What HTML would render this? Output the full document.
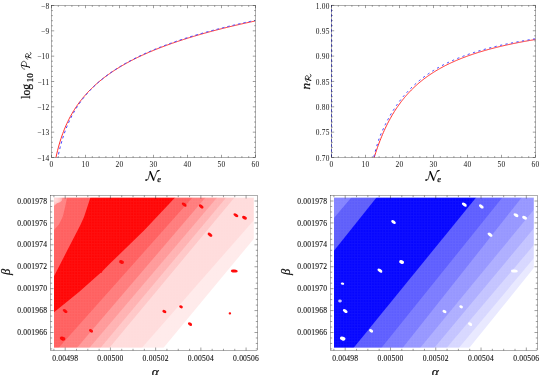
<!DOCTYPE html>
<html><head><meta charset="utf-8"><title>plots</title>
<style>html,body{margin:0;padding:0;background:#fff;font-family:"Liberation Serif",serif}body{width:541px;height:375px;overflow:hidden}</style>
</head><body>
<svg width="541" height="375" viewBox="0 0 541 375" style="display:block;will-change:transform;font-family:'Liberation Serif',serif" fill="#111">
<style>.lab text,text.lab{stroke:#111;stroke-width:0.25px;stroke-linejoin:round}text.tl{stroke:#111;stroke-width:0.1px}</style>
<rect width="541" height="375" fill="#fff"/>
<clipPath id="ctl"><rect x="51.5" y="5.5" width="204.0" height="152.0"/></clipPath>
<g clip-path="url(#ctl)">
<polyline points="52.52,177.70 53.37,171.79 54.22,166.58 55.07,161.93 55.92,157.72 56.77,153.87 57.62,150.34 58.47,147.07 59.32,144.03 60.17,141.18 61.02,138.51 61.87,135.99 62.72,133.60 63.57,131.34 64.42,129.19 65.27,127.14 66.12,125.18 66.97,123.31 67.82,121.51 68.67,119.78 69.52,118.12 70.37,116.51 71.22,114.97 72.07,113.47 72.92,112.03 73.77,110.63 74.62,109.28 75.47,107.96 76.32,106.69 77.17,105.45 78.02,104.24 78.87,103.06 79.72,101.92 80.57,100.81 81.42,99.72 82.27,98.66 83.12,97.62 83.97,96.61 84.82,95.62 85.67,94.65 86.52,93.71 87.37,92.78 88.22,91.87 89.07,90.98 89.92,90.11 90.77,89.26 91.62,88.42 92.47,87.60 93.32,86.79 94.17,85.99 95.02,85.22 95.87,84.45 96.72,83.70 97.57,82.96 98.42,82.23 99.27,81.51 100.12,80.81 100.97,80.12 101.82,79.44 102.67,78.76 103.52,78.10 104.37,77.45 105.22,76.81 106.07,76.17 106.92,75.55 107.77,74.93 108.62,74.33 109.47,73.73 110.32,73.14 111.17,72.56 112.02,71.98 112.87,71.41 113.72,70.85 114.57,70.30 115.42,69.75 116.27,69.21 117.12,68.68 117.97,68.15 118.82,67.63 119.67,67.12 120.52,66.61 121.37,66.10 122.22,65.61 123.07,65.12 123.92,64.63 124.77,64.15 125.62,63.67 126.47,63.20 127.32,62.74 128.17,62.28 129.02,61.82 129.87,61.37 130.72,60.92 131.57,60.48 132.42,60.04 133.27,59.61 134.12,59.18 134.97,58.75 135.82,58.33 136.67,57.92 137.52,57.50 138.37,57.09 139.22,56.69 140.07,56.29 140.92,55.89 141.77,55.49 142.62,55.10 143.47,54.72 144.32,54.33 145.17,53.95 146.02,53.57 146.87,53.20 147.72,52.83 148.57,52.46 149.42,52.09 150.27,51.73 151.12,51.37 151.97,51.02 152.82,50.66 153.67,50.31 154.52,49.96 155.37,49.62 156.22,49.28 157.07,48.94 157.92,48.60 158.77,48.27 159.62,47.93 160.47,47.60 161.32,47.28 162.17,46.95 163.02,46.63 163.87,46.31 164.72,45.99 165.57,45.68 166.42,45.36 167.27,45.05 168.12,44.74 168.97,44.44 169.82,44.13 170.67,43.83 171.52,43.53 172.37,43.23 173.22,42.94 174.07,42.64 174.92,42.35 175.77,42.06 176.62,41.77 177.47,41.48 178.32,41.20 179.17,40.92 180.02,40.64 180.87,40.36 181.72,40.08 182.57,39.80 183.42,39.53 184.27,39.26 185.12,38.99 185.97,38.72 186.82,38.45 187.67,38.18 188.52,37.92 189.37,37.66 190.22,37.40 191.07,37.14 191.92,36.88 192.77,36.62 193.62,36.37 194.47,36.11 195.32,35.86 196.17,35.61 197.02,35.36 197.87,35.11 198.72,34.87 199.57,34.62 200.42,34.38 201.27,34.14 202.12,33.90 202.97,33.66 203.82,33.42 204.67,33.18 205.52,32.94 206.37,32.71 207.22,32.48 208.07,32.24 208.92,32.01 209.77,31.78 210.62,31.56 211.47,31.33 212.32,31.10 213.17,30.88 214.02,30.65 214.87,30.43 215.72,30.21 216.57,29.99 217.42,29.77 218.27,29.55 219.12,29.33 219.97,29.12 220.82,28.90 221.67,28.69 222.52,28.47 223.37,28.26 224.22,28.05 225.07,27.84 225.92,27.63 226.77,27.43 227.62,27.22 228.47,27.01 229.32,26.81 230.17,26.60 231.02,26.40 231.87,26.20 232.72,26.00 233.57,25.80 234.42,25.60 235.27,25.40 236.12,25.20 236.97,25.00 237.82,24.81 238.67,24.61 239.52,24.42 240.37,24.22 241.22,24.03 242.07,23.84 242.92,23.65 243.77,23.46 244.62,23.27 245.47,23.08 246.32,22.89 247.17,22.71 248.02,22.52 248.87,22.34 249.72,22.15 250.57,21.97 251.42,21.79 252.27,21.60 253.12,21.42 253.97,21.24 254.82,21.06" fill="none" stroke="#ff2a2a" stroke-width="0.98"/>
<polyline points="52.52,197.97 53.37,188.45 54.22,180.64 55.07,174.01 55.92,168.25 56.77,163.16 57.62,158.61 58.47,154.48 59.32,150.71 60.17,147.24 61.02,144.03 61.87,141.03 62.72,138.23 63.57,135.60 64.42,133.12 65.27,130.77 66.12,128.54 66.97,126.43 67.82,124.40 68.67,122.47 69.52,120.63 70.37,118.85 71.22,117.15 72.07,115.51 72.92,113.93 73.77,112.41 74.62,110.93 75.47,109.51 76.32,108.13 77.17,106.79 78.02,105.50 78.87,104.24 79.72,103.02 80.57,101.83 81.42,100.67 82.27,99.54 83.12,98.44 83.97,97.37 84.82,96.33 85.67,95.30 86.52,94.31 87.37,93.33 88.22,92.38 89.07,91.45 89.92,90.53 90.77,89.64 91.62,88.76 92.47,87.90 93.32,87.06 94.17,86.24 95.02,85.42 95.87,84.63 96.72,83.85 97.57,83.08 98.42,82.33 99.27,81.59 100.12,80.86 100.97,80.14 101.82,79.44 102.67,78.74 103.52,78.06 104.37,77.39 105.22,76.73 106.07,76.08 106.92,75.43 107.77,74.80 108.62,74.18 109.47,73.56 110.32,72.96 111.17,72.36 112.02,71.77 112.87,71.19 113.72,70.62 114.57,70.05 115.42,69.49 116.27,68.94 117.12,68.39 117.97,67.86 118.82,67.32 119.67,66.80 120.52,66.28 121.37,65.77 122.22,65.26 123.07,64.76 123.92,64.27 124.77,63.78 125.62,63.29 126.47,62.82 127.32,62.34 128.17,61.87 129.02,61.41 129.87,60.95 130.72,60.50 131.57,60.05 132.42,59.61 133.27,59.17 134.12,58.73 134.97,58.30 135.82,57.87 136.67,57.45 137.52,57.03 138.37,56.62 139.22,56.21 140.07,55.80 140.92,55.40 141.77,55.00 142.62,54.61 143.47,54.21 144.32,53.82 145.17,53.44 146.02,53.06 146.87,52.68 147.72,52.31 148.57,51.93 149.42,51.56 150.27,51.20 151.12,50.84 151.97,50.48 152.82,50.12 153.67,49.77 154.52,49.42 155.37,49.07 156.22,48.72 157.07,48.38 157.92,48.04 158.77,47.70 159.62,47.37 160.47,47.04 161.32,46.71 162.17,46.38 163.02,46.06 163.87,45.74 164.72,45.42 165.57,45.10 166.42,44.78 167.27,44.47 168.12,44.16 168.97,43.85 169.82,43.55 170.67,43.24 171.52,42.94 172.37,42.64 173.22,42.34 174.07,42.05 174.92,41.75 175.77,41.46 176.62,41.17 177.47,40.88 178.32,40.60 179.17,40.31 180.02,40.03 180.87,39.75 181.72,39.47 182.57,39.19 183.42,38.92 184.27,38.64 185.12,38.37 185.97,38.10 186.82,37.83 187.67,37.57 188.52,37.30 189.37,37.04 190.22,36.78 191.07,36.52 191.92,36.26 192.77,36.00 193.62,35.74 194.47,35.49 195.32,35.24 196.17,34.99 197.02,34.74 197.87,34.49 198.72,34.24 199.57,33.99 200.42,33.75 201.27,33.51 202.12,33.26 202.97,33.02 203.82,32.79 204.67,32.55 205.52,32.31 206.37,32.08 207.22,31.84 208.07,31.61 208.92,31.38 209.77,31.15 210.62,30.92 211.47,30.69 212.32,30.46 213.17,30.24 214.02,30.01 214.87,29.79 215.72,29.57 216.57,29.35 217.42,29.13 218.27,28.91 219.12,28.69 219.97,28.48 220.82,28.26 221.67,28.05 222.52,27.83 223.37,27.62 224.22,27.41 225.07,27.20 225.92,26.99 226.77,26.78 227.62,26.57 228.47,26.37 229.32,26.16 230.17,25.96 231.02,25.75 231.87,25.55 232.72,25.35 233.57,25.15 234.42,24.95 235.27,24.75 236.12,24.55 236.97,24.36 237.82,24.16 238.67,23.96 239.52,23.77 240.37,23.58 241.22,23.38 242.07,23.19 242.92,23.00 243.77,22.81 244.62,22.62 245.47,22.43 246.32,22.24 247.17,22.06 248.02,21.87 248.87,21.69 249.72,21.50 250.57,21.32 251.42,21.13 252.27,20.95 253.12,20.77 253.97,20.59 254.82,20.41" fill="none" stroke="#3a3aff" stroke-width="0.95" stroke-dasharray="2.6 2.9"/>
</g>
<rect x="51.5" y="5.5" width="204.00" height="152.00" fill="none" stroke="#000" stroke-width="0.32"/>
<path d="M51.50 157.5v-2.7M51.50 5.5v2.7M85.50 157.5v-2.7M85.50 5.5v2.7M119.50 157.5v-2.7M119.50 5.5v2.7M153.50 157.5v-2.7M153.50 5.5v2.7M187.50 157.5v-2.7M187.50 5.5v2.7M221.50 157.5v-2.7M221.50 5.5v2.7M255.50 157.5v-2.7M255.50 5.5v2.7M58.30 157.5v-1.4M58.30 5.5v1.4M65.10 157.5v-1.4M65.10 5.5v1.4M71.90 157.5v-1.4M71.90 5.5v1.4M78.70 157.5v-1.4M78.70 5.5v1.4M92.30 157.5v-1.4M92.30 5.5v1.4M99.10 157.5v-1.4M99.10 5.5v1.4M105.90 157.5v-1.4M105.90 5.5v1.4M112.70 157.5v-1.4M112.70 5.5v1.4M126.30 157.5v-1.4M126.30 5.5v1.4M133.10 157.5v-1.4M133.10 5.5v1.4M139.90 157.5v-1.4M139.90 5.5v1.4M146.70 157.5v-1.4M146.70 5.5v1.4M160.30 157.5v-1.4M160.30 5.5v1.4M167.10 157.5v-1.4M167.10 5.5v1.4M173.90 157.5v-1.4M173.90 5.5v1.4M180.70 157.5v-1.4M180.70 5.5v1.4M194.30 157.5v-1.4M194.30 5.5v1.4M201.10 157.5v-1.4M201.10 5.5v1.4M207.90 157.5v-1.4M207.90 5.5v1.4M214.70 157.5v-1.4M214.70 5.5v1.4M228.30 157.5v-1.4M228.30 5.5v1.4M235.10 157.5v-1.4M235.10 5.5v1.4M241.90 157.5v-1.4M241.90 5.5v1.4M248.70 157.5v-1.4M248.70 5.5v1.4M51.5 157.50h2.7M255.5 157.50h-2.7M51.5 132.17h2.7M255.5 132.17h-2.7M51.5 106.83h2.7M255.5 106.83h-2.7M51.5 81.50h2.7M255.5 81.50h-2.7M51.5 56.17h2.7M255.5 56.17h-2.7M51.5 30.83h2.7M255.5 30.83h-2.7M51.5 5.50h2.7M255.5 5.50h-2.7M51.5 152.43h1.4M255.5 152.43h-1.4M51.5 147.37h1.4M255.5 147.37h-1.4M51.5 142.30h1.4M255.5 142.30h-1.4M51.5 137.23h1.4M255.5 137.23h-1.4M51.5 127.10h1.4M255.5 127.10h-1.4M51.5 122.03h1.4M255.5 122.03h-1.4M51.5 116.97h1.4M255.5 116.97h-1.4M51.5 111.90h1.4M255.5 111.90h-1.4M51.5 101.77h1.4M255.5 101.77h-1.4M51.5 96.70h1.4M255.5 96.70h-1.4M51.5 91.63h1.4M255.5 91.63h-1.4M51.5 86.57h1.4M255.5 86.57h-1.4M51.5 76.43h1.4M255.5 76.43h-1.4M51.5 71.37h1.4M255.5 71.37h-1.4M51.5 66.30h1.4M255.5 66.30h-1.4M51.5 61.23h1.4M255.5 61.23h-1.4M51.5 51.10h1.4M255.5 51.10h-1.4M51.5 46.03h1.4M255.5 46.03h-1.4M51.5 40.97h1.4M255.5 40.97h-1.4M51.5 35.90h1.4M255.5 35.90h-1.4M51.5 25.77h1.4M255.5 25.77h-1.4M51.5 20.70h1.4M255.5 20.70h-1.4M51.5 15.63h1.4M255.5 15.63h-1.4M51.5 10.57h1.4M255.5 10.57h-1.4" stroke="#000" stroke-width="0.38" fill="none"/>
<text x="51.50" y="167.40" text-anchor="middle" font-size="7.4" letter-spacing="0.2" >0</text>
<text x="85.50" y="167.40" text-anchor="middle" font-size="7.4" letter-spacing="0.2" >10</text>
<text x="119.50" y="167.40" text-anchor="middle" font-size="7.4" letter-spacing="0.2" >20</text>
<text x="153.50" y="167.40" text-anchor="middle" font-size="7.4" letter-spacing="0.2" >30</text>
<text x="187.50" y="167.40" text-anchor="middle" font-size="7.4" letter-spacing="0.2" >40</text>
<text x="221.50" y="167.40" text-anchor="middle" font-size="7.4" letter-spacing="0.2" >50</text>
<text x="255.50" y="167.40" text-anchor="middle" font-size="7.4" letter-spacing="0.2" >60</text>
<text x="49.30" y="161.20" text-anchor="end" font-size="7.4" letter-spacing="0.2" >−14</text>
<text x="49.30" y="135.37" text-anchor="end" font-size="7.4" letter-spacing="0.2" >−13</text>
<text x="49.30" y="110.03" text-anchor="end" font-size="7.4" letter-spacing="0.2" >−12</text>
<text x="49.30" y="84.70" text-anchor="end" font-size="7.4" letter-spacing="0.2" >−11</text>
<text x="49.30" y="59.37" text-anchor="end" font-size="7.4" letter-spacing="0.2" >−10</text>
<text x="49.30" y="34.03" text-anchor="end" font-size="7.4" letter-spacing="0.2" >−9</text>
<text x="49.30" y="8.70" text-anchor="end" font-size="7.4" letter-spacing="0.2" >−8</text>
<g transform="translate(145.60,180.60) scale(1.0,0.940)" fill="none" stroke="#000" stroke-linecap="round" stroke-linejoin="round"><path d="M0.3 -0.5 C1.2 0.2 2.2 -0.6 2.8 -2.4 L4.6 -9.3" stroke-width="0.7"/><path d="M0.2 -0.6 L1.3 -0.9" stroke-width="1.3"/><path d="M4.6 -9.5 L8.0 -0.6" stroke-width="1.5"/><path d="M8.0 -0.5 L11.2 -9.2 C11.6 -10.2 12.6 -10.7 13.6 -10.8" stroke-width="0.7"/><path d="M11.6 -10.0 L13.4 -10.8" stroke-width="1.1"/></g>
<text x="159.20" y="181.70" text-anchor="middle" font-size="8.6" letter-spacing="0" font-style="italic" class="lab">e</text>
<g class="lab" transform="translate(29.6,98.8) rotate(-90)"><text x="0" y="0" font-size="12.4" textLength="14.8" lengthAdjust="spacingAndGlyphs">log</text><text x="16.6" y="3.6" font-size="9" textLength="9" lengthAdjust="spacingAndGlyphs">10</text><g transform="translate(29.20,-0.20) scale(8.600,8.100)" fill="none" stroke="#000" stroke-linecap="round" stroke-linejoin="round"><path d="M0.04 -0.58 C0.06 -0.86 0.30 -1.0 0.56 -1.0 C0.86 -1.0 1.0 -0.84 0.97 -0.64 C0.93 -0.42 0.66 -0.30 0.40 -0.36" stroke-width="0.075"/><path d="M0.50 -0.96 L0.30 -0.02" stroke-width="0.115"/><path d="M0.30 -0.02 L0.22 0.02" stroke-width="0.10"/></g><g transform="translate(39.30,1.50) scale(7.200,5.600)" fill="none" stroke="#000" stroke-linecap="round" stroke-linejoin="round"><path d="M0.03 -0.60 C0.05 -0.86 0.25 -1.0 0.48 -1.0 C0.74 -1.0 0.86 -0.86 0.83 -0.68 C0.80 -0.50 0.58 -0.42 0.36 -0.46" stroke-width="0.09"/><path d="M0.42 -0.96 L0.22 -0.02" stroke-width="0.13"/><path d="M0.42 -0.46 C0.58 -0.40 0.62 -0.05 0.80 -0.02 C0.90 -0.01 0.96 -0.08 1.0 -0.16" stroke-width="0.11"/></g></g>
<clipPath id="ctr"><rect x="330.5" y="5.4" width="205.0" height="152.1"/></clipPath>
<g clip-path="url(#ctr)">
<polyline points="358.70,233.20 359.55,227.15 360.40,221.40 361.25,215.95 362.10,210.77 362.95,205.83 363.80,201.13 364.65,196.64 365.50,192.35 366.35,188.26 367.20,184.33 368.05,180.58 368.90,176.97 369.75,173.51 370.60,170.19 371.45,167.00 372.30,163.93 373.15,160.97 374.00,158.12 374.85,155.38 375.70,152.73 376.55,150.17 377.40,147.70 378.25,145.31 379.10,143.01 379.95,140.77 380.80,138.61 381.65,136.52 382.50,134.49 383.35,132.52 384.20,130.61 385.05,128.76 385.90,126.96 386.75,125.22 387.60,123.52 388.45,121.87 389.30,120.27 390.15,118.71 391.00,117.19 391.85,115.71 392.70,114.27 393.55,112.87 394.40,111.50 395.25,110.17 396.10,108.87 396.95,107.60 397.80,106.36 398.65,105.16 399.50,103.98 400.35,102.83 401.20,101.70 402.05,100.60 402.90,99.53 403.75,98.48 404.60,97.45 405.45,96.44 406.30,95.46 407.15,94.50 408.00,93.56 408.85,92.64 409.70,91.73 410.55,90.85 411.40,89.98 412.25,89.13 413.10,88.30 413.95,87.49 414.80,86.69 415.65,85.90 416.50,85.13 417.35,84.38 418.20,83.64 419.05,82.91 419.90,82.19 420.75,81.49 421.60,80.81 422.45,80.13 423.30,79.47 424.15,78.82 425.00,78.17 425.85,77.55 426.70,76.93 427.55,76.32 428.40,75.72 429.25,75.13 430.10,74.55 430.95,73.99 431.80,73.43 432.65,72.88 433.50,72.33 434.35,71.80 435.20,71.28 436.05,70.76 436.90,70.25 437.75,69.75 438.60,69.26 439.45,68.78 440.30,68.30 441.15,67.83 442.00,67.36 442.85,66.91 443.70,66.46 444.55,66.01 445.40,65.57 446.25,65.14 447.10,64.72 447.95,64.30 448.80,63.89 449.65,63.48 450.50,63.08 451.35,62.68 452.20,62.29 453.05,61.91 453.90,61.53 454.75,61.15 455.60,60.78 456.45,60.42 457.30,60.05 458.15,59.70 459.00,59.35 459.85,59.00 460.70,58.66 461.55,58.32 462.40,57.99 463.25,57.66 464.10,57.33 464.95,57.01 465.80,56.69 466.65,56.38 467.50,56.07 468.35,55.76 469.20,55.46 470.05,55.16 470.90,54.87 471.75,54.58 472.60,54.29 473.45,54.00 474.30,53.72 475.15,53.44 476.00,53.17 476.85,52.90 477.70,52.63 478.55,52.36 479.40,52.10 480.25,51.84 481.10,51.58 481.95,51.33 482.80,51.08 483.65,50.83 484.50,50.58 485.35,50.34 486.20,50.10 487.05,49.86 487.90,49.62 488.75,49.39 489.60,49.16 490.45,48.93 491.30,48.70 492.15,48.48 493.00,48.26 493.85,48.04 494.70,47.82 495.55,47.61 496.40,47.40 497.25,47.19 498.10,46.98 498.95,46.77 499.80,46.57 500.65,46.37 501.50,46.16 502.35,45.97 503.20,45.77 504.05,45.58 504.90,45.38 505.75,45.19 506.60,45.00 507.45,44.82 508.30,44.63 509.15,44.45 510.00,44.27 510.85,44.09 511.70,43.91 512.55,43.73 513.40,43.55 514.25,43.38 515.10,43.21 515.95,43.04 516.80,42.87 517.65,42.70 518.50,42.54 519.35,42.37 520.20,42.21 521.05,42.05 521.90,41.89 522.75,41.73 523.60,41.57 524.45,41.41 525.30,41.26 526.15,41.10 527.00,40.95 527.85,40.80 528.70,40.65 529.55,40.50 530.40,40.36 531.25,40.21 532.10,40.07 532.95,39.92 533.80,39.78 534.65,39.64 535.50,39.50" fill="none" stroke="#ff2a2a" stroke-width="0.98"/>
<polyline points="358.40,233.16 359.25,227.10 360.10,221.36 360.95,215.90 361.80,210.72 362.65,205.78 363.51,201.07 364.36,196.58 365.21,192.29 366.06,188.19 366.91,184.27 367.76,180.51 368.61,176.90 369.46,173.44 370.31,170.12 371.16,166.92 372.01,163.85 372.80,160.87 373.52,157.98 374.24,155.19 374.96,152.49 375.69,149.88 376.41,147.35 377.13,144.91 377.86,142.54 378.59,140.25 379.31,138.02 380.17,135.91 381.03,133.86 381.88,131.88 382.74,129.95 383.60,128.09 384.46,126.27 385.32,124.51 386.17,122.80 387.03,121.13 387.89,119.51 388.75,117.93 389.61,116.40 390.47,114.90 391.33,113.45 392.19,112.03 393.05,110.65 393.91,109.30 394.77,107.98 395.63,106.70 396.49,105.45 397.35,104.23 398.21,103.03 399.07,101.87 399.93,100.73 400.79,99.62 401.65,98.53 402.51,97.46 403.37,96.42 404.23,95.40 405.10,94.41 405.96,93.43 406.82,92.48 407.68,91.55 408.54,90.63 409.40,89.73 410.26,88.86 411.12,88.00 411.99,87.15 412.85,86.33 413.71,85.51 414.57,84.72 415.43,83.94 416.29,83.18 417.15,82.42 418.02,81.69 418.88,80.96 419.74,80.26 420.60,79.56 421.46,78.87 422.32,78.20 423.18,77.54 424.04,76.89 424.90,76.26 425.76,75.63 426.62,75.01 427.48,74.41 428.35,73.81 429.21,73.23 430.07,72.65 430.93,72.09 431.79,71.53 432.65,70.98 433.51,70.44 434.36,69.91 435.22,69.39 436.08,68.88 436.94,68.37 437.80,67.87 438.66,67.38 439.52,66.90 440.38,66.43 441.25,65.97 442.11,65.51 442.97,65.07 443.83,64.62 444.69,64.19 445.55,63.76 446.42,63.34 447.28,62.92 448.14,62.51 449.00,62.11 449.86,61.71 450.72,61.32 451.58,60.93 452.44,60.55 453.30,60.17 454.16,59.80 455.02,59.44 455.88,59.08 456.74,58.72 457.60,58.37 458.46,58.02 459.31,57.68 460.17,57.34 461.03,57.01 461.89,56.68 462.75,56.36 463.61,56.04 464.46,55.72 465.32,55.41 466.18,55.10 467.04,54.79 467.90,54.49 468.75,54.20 469.61,53.90 470.47,53.61 471.32,53.33 472.18,53.05 473.04,52.77 473.89,52.49 474.75,52.22 475.61,51.95 476.46,51.68 477.32,51.42 478.18,51.16 479.03,50.90 479.89,50.65 480.74,50.40 481.60,50.15 482.46,49.91 483.31,49.66 484.17,49.42 485.02,49.19 485.88,48.95 486.73,48.72 487.59,48.49 488.44,48.26 489.30,48.04 490.15,47.82 491.01,47.60 491.86,47.38 492.72,47.17 493.57,46.95 494.43,46.74 495.28,46.54 496.13,46.33 496.99,46.13 497.84,45.92 498.70,45.73 499.55,45.53 500.41,45.33 501.26,45.14 502.11,44.95 502.97,44.76 503.82,44.57 504.67,44.39 505.53,44.20 506.38,44.02 507.24,43.84 508.09,43.66 508.94,43.48 509.80,43.31 510.65,43.14 511.50,42.96 512.36,42.79 513.21,42.63 514.06,42.46 514.92,42.29 515.77,42.13 516.62,41.97 517.47,41.81 518.33,41.65 519.18,41.49 520.03,41.34 520.89,41.18 521.74,41.03 522.59,40.88 523.44,40.73 524.30,40.58 525.15,40.43 526.00,40.28 526.86,40.14 527.71,40.00 528.56,39.85 529.41,39.71 530.26,39.57 531.12,39.43 531.97,39.30 532.82,39.16 533.67,39.03 534.53,38.89 535.38,38.76" fill="none" stroke="#3a3aff" stroke-width="1.0" stroke-dasharray="2.2 3.4" stroke-dashoffset="0.5"/>
<path d="M331.5 4.2V157.5" stroke="#5a5aff" stroke-width="0.95" stroke-dasharray="2.6 2.4"/>
</g>
<rect x="331.5" y="5.4" width="204.00" height="152.10" fill="none" stroke="#000" stroke-width="0.32"/>
<path d="M331.50 157.5v-2.7M331.50 5.4v2.7M365.50 157.5v-2.7M365.50 5.4v2.7M399.50 157.5v-2.7M399.50 5.4v2.7M433.50 157.5v-2.7M433.50 5.4v2.7M467.50 157.5v-2.7M467.50 5.4v2.7M501.50 157.5v-2.7M501.50 5.4v2.7M535.50 157.5v-2.7M535.50 5.4v2.7M338.30 157.5v-1.4M338.30 5.4v1.4M345.10 157.5v-1.4M345.10 5.4v1.4M351.90 157.5v-1.4M351.90 5.4v1.4M358.70 157.5v-1.4M358.70 5.4v1.4M372.30 157.5v-1.4M372.30 5.4v1.4M379.10 157.5v-1.4M379.10 5.4v1.4M385.90 157.5v-1.4M385.90 5.4v1.4M392.70 157.5v-1.4M392.70 5.4v1.4M406.30 157.5v-1.4M406.30 5.4v1.4M413.10 157.5v-1.4M413.10 5.4v1.4M419.90 157.5v-1.4M419.90 5.4v1.4M426.70 157.5v-1.4M426.70 5.4v1.4M440.30 157.5v-1.4M440.30 5.4v1.4M447.10 157.5v-1.4M447.10 5.4v1.4M453.90 157.5v-1.4M453.90 5.4v1.4M460.70 157.5v-1.4M460.70 5.4v1.4M474.30 157.5v-1.4M474.30 5.4v1.4M481.10 157.5v-1.4M481.10 5.4v1.4M487.90 157.5v-1.4M487.90 5.4v1.4M494.70 157.5v-1.4M494.70 5.4v1.4M508.30 157.5v-1.4M508.30 5.4v1.4M515.10 157.5v-1.4M515.10 5.4v1.4M521.90 157.5v-1.4M521.90 5.4v1.4M528.70 157.5v-1.4M528.70 5.4v1.4M331.5 157.50h2.7M535.5 157.50h-2.7M331.5 132.15h2.7M535.5 132.15h-2.7M331.5 106.80h2.7M535.5 106.80h-2.7M331.5 81.45h2.7M535.5 81.45h-2.7M331.5 56.10h2.7M535.5 56.10h-2.7M331.5 30.75h2.7M535.5 30.75h-2.7M331.5 5.40h2.7M535.5 5.40h-2.7M331.5 152.43h1.4M535.5 152.43h-1.4M331.5 147.36h1.4M535.5 147.36h-1.4M331.5 142.29h1.4M535.5 142.29h-1.4M331.5 137.22h1.4M535.5 137.22h-1.4M331.5 127.08h1.4M535.5 127.08h-1.4M331.5 122.01h1.4M535.5 122.01h-1.4M331.5 116.94h1.4M535.5 116.94h-1.4M331.5 111.87h1.4M535.5 111.87h-1.4M331.5 101.73h1.4M535.5 101.73h-1.4M331.5 96.66h1.4M535.5 96.66h-1.4M331.5 91.59h1.4M535.5 91.59h-1.4M331.5 86.52h1.4M535.5 86.52h-1.4M331.5 76.38h1.4M535.5 76.38h-1.4M331.5 71.31h1.4M535.5 71.31h-1.4M331.5 66.24h1.4M535.5 66.24h-1.4M331.5 61.17h1.4M535.5 61.17h-1.4M331.5 51.03h1.4M535.5 51.03h-1.4M331.5 45.96h1.4M535.5 45.96h-1.4M331.5 40.89h1.4M535.5 40.89h-1.4M331.5 35.82h1.4M535.5 35.82h-1.4M331.5 25.68h1.4M535.5 25.68h-1.4M331.5 20.61h1.4M535.5 20.61h-1.4M331.5 15.54h1.4M535.5 15.54h-1.4M331.5 10.47h1.4M535.5 10.47h-1.4" stroke="#000" stroke-width="0.38" fill="none"/>
<text x="331.50" y="167.40" text-anchor="middle" font-size="7.4" letter-spacing="0.2" >0</text>
<text x="365.50" y="167.40" text-anchor="middle" font-size="7.4" letter-spacing="0.2" >10</text>
<text x="399.50" y="167.40" text-anchor="middle" font-size="7.4" letter-spacing="0.2" >20</text>
<text x="433.50" y="167.40" text-anchor="middle" font-size="7.4" letter-spacing="0.2" >30</text>
<text x="467.50" y="167.40" text-anchor="middle" font-size="7.4" letter-spacing="0.2" >40</text>
<text x="501.50" y="167.40" text-anchor="middle" font-size="7.4" letter-spacing="0.2" >50</text>
<text x="535.50" y="167.40" text-anchor="middle" font-size="7.4" letter-spacing="0.2" >60</text>
<text x="329.60" y="160.65" text-anchor="end" font-size="7.4" letter-spacing="0.2" >0.70</text>
<text x="329.60" y="135.30" text-anchor="end" font-size="7.4" letter-spacing="0.2" >0.75</text>
<text x="329.60" y="109.95" text-anchor="end" font-size="7.4" letter-spacing="0.2" >0.80</text>
<text x="329.60" y="84.60" text-anchor="end" font-size="7.4" letter-spacing="0.2" >0.85</text>
<text x="329.60" y="59.25" text-anchor="end" font-size="7.4" letter-spacing="0.2" >0.90</text>
<text x="329.60" y="33.90" text-anchor="end" font-size="7.4" letter-spacing="0.2" >0.95</text>
<text x="329.60" y="8.55" text-anchor="end" font-size="7.4" letter-spacing="0.2" >1.00</text>
<g transform="translate(425.60,180.60) scale(1.0,0.940)" fill="none" stroke="#000" stroke-linecap="round" stroke-linejoin="round"><path d="M0.3 -0.5 C1.2 0.2 2.2 -0.6 2.8 -2.4 L4.6 -9.3" stroke-width="0.7"/><path d="M0.2 -0.6 L1.3 -0.9" stroke-width="1.3"/><path d="M4.6 -9.5 L8.0 -0.6" stroke-width="1.5"/><path d="M8.0 -0.5 L11.2 -9.2 C11.6 -10.2 12.6 -10.7 13.6 -10.8" stroke-width="0.7"/><path d="M11.6 -10.0 L13.4 -10.8" stroke-width="1.1"/></g>
<text x="439.20" y="181.70" text-anchor="middle" font-size="8.6" letter-spacing="0" font-style="italic" class="lab">e</text>
<g class="lab" transform="translate(309.6,89.4) rotate(-90)"><text x="0" y="0" font-size="13.2" font-style="italic">n</text><g transform="translate(7.20,1.50) scale(8.000,5.800)" fill="none" stroke="#000" stroke-linecap="round" stroke-linejoin="round"><path d="M0.03 -0.60 C0.05 -0.86 0.25 -1.0 0.48 -1.0 C0.74 -1.0 0.86 -0.86 0.83 -0.68 C0.80 -0.50 0.58 -0.42 0.36 -0.46" stroke-width="0.09"/><path d="M0.42 -0.96 L0.22 -0.02" stroke-width="0.13"/><path d="M0.42 -0.46 C0.58 -0.40 0.62 -0.05 0.80 -0.02 C0.90 -0.01 0.96 -0.08 1.0 -0.16" stroke-width="0.11"/></g></g>
<mask id="mbl" maskUnits="userSpaceOnUse" x="48.0" y="191.65" width="211.8" height="162.0"><rect x="54.0" y="197.65" width="199.80" height="150.00" fill="#fff"/></mask>
<radialGradient id="gcorner" gradientUnits="userSpaceOnUse" cx="55.5" cy="199.5" r="9"><stop offset="0" stop-color="#ffdcdc"/><stop offset="0.45" stop-color="#ffc4c4"/><stop offset="1" stop-color="#ff9090"/></radialGradient>
<g mask="url(#mbl)">
<rect x="49.0" y="192.65" width="209.8" height="160.0" fill="#ff5c5c"/>
<polygon points="50.0,193.7 67.6,193.7 67.0,197.7 65.1,206.9 62.6,216.9 58.9,224.5 54.0,230.0 50.0,231.5" fill="#ff7f7f"/>
<polygon points="50.0,193.7 62.6,193.7 62.5,197.7 62.0,200.5 60.0,202.2 57.0,203.2 55.0,205.0 54.0,206.0 50.0,206.5" fill="url(#gcorner)"/>
<polygon points="91.6,193.7 178.9,193.7 174.9,197.7 144.5,230.0 110.0,263.6 102.1,271.5 79.3,291.8 66.7,301.9 54.0,312.2 50.0,315.3 50.0,284.0 54.0,276.2 67.2,250.6 80.4,225.0 84.0,216.9 87.8,205.6 90.3,197.7" fill="#ff0000"/>
<polygon points="212.3,175.2 38.9,370.1 438.9,370.1 612.3,175.2" fill="#ff7979"/>
<polygon points="224.5,175.2 58.0,370.1 458.0,370.1 624.5,175.2" fill="#ff9797"/>
<polygon points="236.0,175.2 70.6,370.1 470.6,370.1 636.0,175.2" fill="#ffb0b0"/>
<polygon points="244.8,175.2 82.0,370.1 482.0,370.1 644.8,175.2" fill="#ffc6c6"/>
<polygon points="253.0,175.2 90.9,370.1 490.9,370.1 653.0,175.2" fill="#ffdbdb"/>
<polygon points="270.6,201.1 125.3,366.8 525.3,366.8 670.6,201.1" fill="#ffeaea"/>
<polygon points="267.3,222.5 150.1,364.0 550.1,364.0 667.3,222.5" fill="#ffffff"/>
<ellipse cx="184.2" cy="204.6" rx="2.81" ry="1.53" fill="#ff0000" transform="rotate(35 184.2 204.6)"/>
<ellipse cx="201.2" cy="206.4" rx="2.70" ry="1.53" fill="#ff0000" transform="rotate(35 201.2 206.4)"/>
<ellipse cx="235.9" cy="215.2" rx="2.70" ry="1.53" fill="#ff0000" transform="rotate(30 235.9 215.2)"/>
<ellipse cx="244.5" cy="217.7" rx="2.59" ry="1.65" fill="#ff0000" transform="rotate(25 244.5 217.7)"/>
<ellipse cx="210.0" cy="234.7" rx="2.70" ry="1.53" fill="#ff0000" transform="rotate(35 210.0 234.7)"/>
<ellipse cx="234.3" cy="271.0" rx="3.46" ry="1.53" fill="#ff0000" transform="rotate(6 234.3 271.0)"/>
<ellipse cx="181.0" cy="306.8" rx="1.94" ry="1.36" fill="#ff0000" transform="rotate(30 181.0 306.8)"/>
<ellipse cx="164.4" cy="311.5" rx="2.16" ry="1.53" fill="#ff0000" transform="rotate(30 164.4 311.5)"/>
<ellipse cx="229.9" cy="313.4" rx="1.24" ry="1.12" fill="#ff0000" transform="rotate(0 229.9 313.4)"/>
<ellipse cx="190.0" cy="324.1" rx="2.27" ry="1.53" fill="#ff0000" transform="rotate(35 190.0 324.1)"/>
<ellipse cx="121.5" cy="262.0" rx="2.48" ry="1.89" fill="#ff0000" transform="rotate(15 121.5 262.0)"/>
<ellipse cx="65.1" cy="311.0" rx="2.70" ry="1.53" fill="#ff0000" transform="rotate(35 65.1 311.0)"/>
<ellipse cx="91.0" cy="330.8" rx="2.27" ry="1.47" fill="#ff0000" transform="rotate(35 91.0 330.8)"/>
<ellipse cx="62.6" cy="338.6" rx="2.81" ry="1.89" fill="#ff0000" transform="rotate(15 62.6 338.6)"/>
<ellipse cx="113.4" cy="222.0" rx="2.59" ry="1.53" fill="#ff0000" transform="rotate(35 113.4 222.0)"/>
<ellipse cx="99.8" cy="270.6" rx="2.81" ry="1.53" fill="#ff0000" transform="rotate(35 99.8 270.6)"/>
<ellipse cx="62.4" cy="283.6" rx="1.73" ry="1.18" fill="#ff0000" transform="rotate(10 62.4 283.6)"/>
<ellipse cx="59.9" cy="301.0" rx="1.84" ry="1.42" fill="#ff0000" transform="rotate(10 59.9 301.0)"/>
<pattern id="gbl" x="49.0" y="192.65" width="2.8" height="2.8" patternUnits="userSpaceOnUse"><path d="M0 0.35H2.8M0.35 0V2.8" stroke="#fff" stroke-width="0.7" opacity="0.07"/><path d="M0 1.75H2.8M1.75 0V2.8" stroke="#fff" stroke-width="0.5" opacity="0.042"/></pattern><rect x="49.0" y="192.65" width="209.8" height="160.0" fill="url(#gbl)"/>
</g>
<rect x="50.5" y="195.5" width="207.00" height="155.00" fill="none" stroke="#000" stroke-width="0.32"/>
<path d="M65.20 350.5v-3.0M65.20 195.5v3.0M110.42 350.5v-3.0M110.42 195.5v3.0M155.64 350.5v-3.0M155.64 195.5v3.0M200.86 350.5v-3.0M200.86 195.5v3.0M246.08 350.5v-3.0M246.08 195.5v3.0M53.90 350.5v-1.7M53.90 195.5v1.7M76.50 350.5v-1.7M76.50 195.5v1.7M87.81 350.5v-1.7M87.81 195.5v1.7M99.12 350.5v-1.7M99.12 195.5v1.7M121.72 350.5v-1.7M121.72 195.5v1.7M133.03 350.5v-1.7M133.03 195.5v1.7M144.33 350.5v-1.7M144.33 195.5v1.7M166.94 350.5v-1.7M166.94 195.5v1.7M178.25 350.5v-1.7M178.25 195.5v1.7M189.56 350.5v-1.7M189.56 195.5v1.7M212.17 350.5v-1.7M212.17 195.5v1.7M223.47 350.5v-1.7M223.47 195.5v1.7M234.77 350.5v-1.7M234.77 195.5v1.7M50.5 201.00h3.0M257.5 201.00h-3.0M50.5 222.92h3.0M257.5 222.92h-3.0M50.5 244.83h3.0M257.5 244.83h-3.0M50.5 266.75h3.0M257.5 266.75h-3.0M50.5 288.66h3.0M257.5 288.66h-3.0M50.5 310.58h3.0M257.5 310.58h-3.0M50.5 332.50h3.0M257.5 332.50h-3.0M50.5 206.48h1.7M257.5 206.48h-1.7M50.5 211.96h1.7M257.5 211.96h-1.7M50.5 217.44h1.7M257.5 217.44h-1.7M50.5 228.40h1.7M257.5 228.40h-1.7M50.5 233.87h1.7M257.5 233.87h-1.7M50.5 239.35h1.7M257.5 239.35h-1.7M50.5 250.31h1.7M257.5 250.31h-1.7M50.5 255.79h1.7M257.5 255.79h-1.7M50.5 261.27h1.7M257.5 261.27h-1.7M50.5 272.23h1.7M257.5 272.23h-1.7M50.5 277.71h1.7M257.5 277.71h-1.7M50.5 283.19h1.7M257.5 283.19h-1.7M50.5 294.14h1.7M257.5 294.14h-1.7M50.5 299.62h1.7M257.5 299.62h-1.7M50.5 305.10h1.7M257.5 305.10h-1.7M50.5 316.06h1.7M257.5 316.06h-1.7M50.5 321.54h1.7M257.5 321.54h-1.7M50.5 327.02h1.7M257.5 327.02h-1.7M50.5 337.98h1.7M257.5 337.98h-1.7M50.5 343.45h1.7M257.5 343.45h-1.7M50.5 348.93h1.7M257.5 348.93h-1.7" stroke="#000" stroke-width="0.38" fill="none"/>
<text x="65.20" y="361.00" text-anchor="middle" font-size="7.6" letter-spacing="0.2" class="tl">0.00498</text>
<text x="110.42" y="361.00" text-anchor="middle" font-size="7.6" letter-spacing="0.2" class="tl">0.00500</text>
<text x="155.64" y="361.00" text-anchor="middle" font-size="7.6" letter-spacing="0.2" class="tl">0.00502</text>
<text x="200.86" y="361.00" text-anchor="middle" font-size="7.6" letter-spacing="0.2" class="tl">0.00504</text>
<text x="246.08" y="361.00" text-anchor="middle" font-size="7.6" letter-spacing="0.2" class="tl">0.00506</text>
<text x="47.30" y="203.60" text-anchor="end" font-size="7.6" letter-spacing="0.2" class="tl">0.001978</text>
<text x="47.30" y="225.52" text-anchor="end" font-size="7.6" letter-spacing="0.2" class="tl">0.001976</text>
<text x="47.30" y="247.43" text-anchor="end" font-size="7.6" letter-spacing="0.2" class="tl">0.001974</text>
<text x="47.30" y="269.35" text-anchor="end" font-size="7.6" letter-spacing="0.2" class="tl">0.001972</text>
<text x="47.30" y="291.26" text-anchor="end" font-size="7.6" letter-spacing="0.2" class="tl">0.001970</text>
<text x="47.30" y="313.18" text-anchor="end" font-size="7.6" letter-spacing="0.2" class="tl">0.001968</text>
<text x="47.30" y="335.10" text-anchor="end" font-size="7.6" letter-spacing="0.2" class="tl">0.001966</text>
<text x="155.40" y="375.60" text-anchor="middle" font-size="13.5" letter-spacing="0" font-style="italic" class="lab">α</text>
<g class="lab" transform="translate(9.7,275.0) rotate(-90)"><text x="0" y="0" font-size="12.4" font-style="italic">β</text></g>
<mask id="mbr" maskUnits="userSpaceOnUse" x="328.0" y="191.65" width="211.8" height="162.0"><rect x="334.0" y="197.65" width="199.80" height="150.00" fill="#fff"/></mask>
<g mask="url(#mbr)">
<rect x="329.0" y="192.65" width="209.8" height="160.0" fill="#5a5afa"/>
<polygon points="329.0,192.7 355.3,192.7 351.1,197.7 334.0,218.0 329.0,224.0" fill="#8080ff"/>
<polygon points="380.3,192.7 329.0,257.0 329.0,352.6 538.8,352.6 538.8,192.7" fill="#0000ff"/>
<polygon points="494.2,175.2 335.6,370.1 735.6,370.1 894.2,175.2" fill="#5a5aff"/>
<polygon points="520.3,175.2 363.6,370.1 763.6,370.1 920.3,175.2" fill="#7878ff"/>
<polygon points="539.4,175.2 385.1,370.1 785.1,370.1 939.4,175.2" fill="#9494ff"/>
<polygon points="550.8,189.0 403.4,368.3 803.4,368.3 950.8,189.0" fill="#acacff"/>
<polygon points="548.7,210.4 419.6,365.6 819.6,365.6 948.7,210.4" fill="#c2c2ff"/>
<polygon points="546.8,229.7 433.8,363.0 833.8,363.0 946.8,229.7" fill="#d6d6ff"/>
<polygon points="545.0,244.8 447.9,361.1 847.9,361.1 945.0,244.8" fill="#e8e8ff"/>
<polygon points="543.4,256.1 459.9,359.6 859.9,359.6 943.4,256.1" fill="#ffffff"/>
<pattern id="gbr" x="329.0" y="192.65" width="2.8" height="2.8" patternUnits="userSpaceOnUse"><path d="M0 0.35H2.8M0.35 0V2.8" stroke="#fff" stroke-width="0.7" opacity="0.07"/><path d="M0 1.75H2.8M1.75 0V2.8" stroke="#fff" stroke-width="0.5" opacity="0.042"/></pattern><rect x="329.0" y="192.65" width="209.8" height="160.0" fill="url(#gbr)"/>
<ellipse cx="464.3" cy="204.6" rx="2.81" ry="1.53" fill="#ffffff" transform="rotate(35 464.3 204.6)"/>
<ellipse cx="481.3" cy="206.4" rx="2.70" ry="1.53" fill="#ffffff" transform="rotate(35 481.3 206.4)"/>
<ellipse cx="516.0" cy="215.2" rx="2.70" ry="1.53" fill="#ffffff" transform="rotate(30 516.0 215.2)"/>
<ellipse cx="524.6" cy="217.7" rx="2.59" ry="1.65" fill="#ffffff" transform="rotate(25 524.6 217.7)"/>
<ellipse cx="490.1" cy="234.7" rx="2.70" ry="1.53" fill="#ffffff" transform="rotate(35 490.1 234.7)"/>
<ellipse cx="514.4" cy="271.0" rx="3.46" ry="1.53" fill="#ffffff" transform="rotate(6 514.4 271.0)"/>
<ellipse cx="461.1" cy="306.8" rx="1.94" ry="1.36" fill="#ffffff" transform="rotate(30 461.1 306.8)"/>
<ellipse cx="444.5" cy="311.5" rx="2.16" ry="1.53" fill="#ffffff" transform="rotate(30 444.5 311.5)"/>
<ellipse cx="510.0" cy="313.4" rx="1.24" ry="1.12" fill="#ffffff" transform="rotate(0 510.0 313.4)"/>
<ellipse cx="470.1" cy="324.1" rx="2.27" ry="1.53" fill="#ffffff" transform="rotate(35 470.1 324.1)"/>
<ellipse cx="401.6" cy="262.0" rx="2.48" ry="1.89" fill="#ffffff" transform="rotate(15 401.6 262.0)"/>
<ellipse cx="345.2" cy="311.0" rx="2.70" ry="1.53" fill="#ffffff" transform="rotate(35 345.2 311.0)"/>
<ellipse cx="371.1" cy="330.8" rx="2.27" ry="1.47" fill="#ffffff" transform="rotate(35 371.1 330.8)"/>
<ellipse cx="342.7" cy="338.6" rx="2.81" ry="1.89" fill="#ffffff" transform="rotate(15 342.7 338.6)"/>
<ellipse cx="393.5" cy="222.0" rx="2.59" ry="1.53" fill="#ffffff" transform="rotate(35 393.5 222.0)"/>
<ellipse cx="379.9" cy="270.6" rx="2.81" ry="1.53" fill="#ffffff" transform="rotate(35 379.9 270.6)"/>
<ellipse cx="342.5" cy="283.6" rx="1.73" ry="1.18" fill="#ffffff" transform="rotate(10 342.5 283.6)"/>
<ellipse cx="340.0" cy="301.0" rx="1.84" ry="1.42" fill="#c4c4ff" transform="rotate(10 340.0 301.0)"/>
</g>
<rect x="330.5" y="195.5" width="207.00" height="155.00" fill="none" stroke="#000" stroke-width="0.32"/>
<path d="M345.20 350.5v-3.0M345.20 195.5v3.0M390.48 350.5v-3.0M390.48 195.5v3.0M435.76 350.5v-3.0M435.76 195.5v3.0M481.04 350.5v-3.0M481.04 195.5v3.0M526.32 350.5v-3.0M526.32 195.5v3.0M333.88 350.5v-1.7M333.88 195.5v1.7M356.52 350.5v-1.7M356.52 195.5v1.7M367.84 350.5v-1.7M367.84 195.5v1.7M379.16 350.5v-1.7M379.16 195.5v1.7M401.80 350.5v-1.7M401.80 195.5v1.7M413.12 350.5v-1.7M413.12 195.5v1.7M424.44 350.5v-1.7M424.44 195.5v1.7M447.08 350.5v-1.7M447.08 195.5v1.7M458.40 350.5v-1.7M458.40 195.5v1.7M469.72 350.5v-1.7M469.72 195.5v1.7M492.36 350.5v-1.7M492.36 195.5v1.7M503.68 350.5v-1.7M503.68 195.5v1.7M515.00 350.5v-1.7M515.00 195.5v1.7M330.5 201.00h3.0M537.5 201.00h-3.0M330.5 222.92h3.0M537.5 222.92h-3.0M330.5 244.83h3.0M537.5 244.83h-3.0M330.5 266.75h3.0M537.5 266.75h-3.0M330.5 288.66h3.0M537.5 288.66h-3.0M330.5 310.58h3.0M537.5 310.58h-3.0M330.5 332.50h3.0M537.5 332.50h-3.0M330.5 206.48h1.7M537.5 206.48h-1.7M330.5 211.96h1.7M537.5 211.96h-1.7M330.5 217.44h1.7M537.5 217.44h-1.7M330.5 228.40h1.7M537.5 228.40h-1.7M330.5 233.87h1.7M537.5 233.87h-1.7M330.5 239.35h1.7M537.5 239.35h-1.7M330.5 250.31h1.7M537.5 250.31h-1.7M330.5 255.79h1.7M537.5 255.79h-1.7M330.5 261.27h1.7M537.5 261.27h-1.7M330.5 272.23h1.7M537.5 272.23h-1.7M330.5 277.71h1.7M537.5 277.71h-1.7M330.5 283.19h1.7M537.5 283.19h-1.7M330.5 294.14h1.7M537.5 294.14h-1.7M330.5 299.62h1.7M537.5 299.62h-1.7M330.5 305.10h1.7M537.5 305.10h-1.7M330.5 316.06h1.7M537.5 316.06h-1.7M330.5 321.54h1.7M537.5 321.54h-1.7M330.5 327.02h1.7M537.5 327.02h-1.7M330.5 337.98h1.7M537.5 337.98h-1.7M330.5 343.45h1.7M537.5 343.45h-1.7M330.5 348.93h1.7M537.5 348.93h-1.7" stroke="#000" stroke-width="0.38" fill="none"/>
<text x="345.20" y="361.00" text-anchor="middle" font-size="7.6" letter-spacing="0.2" class="tl">0.00498</text>
<text x="390.48" y="361.00" text-anchor="middle" font-size="7.6" letter-spacing="0.2" class="tl">0.00500</text>
<text x="435.76" y="361.00" text-anchor="middle" font-size="7.6" letter-spacing="0.2" class="tl">0.00502</text>
<text x="481.04" y="361.00" text-anchor="middle" font-size="7.6" letter-spacing="0.2" class="tl">0.00504</text>
<text x="526.32" y="361.00" text-anchor="middle" font-size="7.6" letter-spacing="0.2" class="tl">0.00506</text>
<text x="327.30" y="203.60" text-anchor="end" font-size="7.6" letter-spacing="0.2" class="tl">0.001978</text>
<text x="327.30" y="225.52" text-anchor="end" font-size="7.6" letter-spacing="0.2" class="tl">0.001976</text>
<text x="327.30" y="247.43" text-anchor="end" font-size="7.6" letter-spacing="0.2" class="tl">0.001974</text>
<text x="327.30" y="269.35" text-anchor="end" font-size="7.6" letter-spacing="0.2" class="tl">0.001972</text>
<text x="327.30" y="291.26" text-anchor="end" font-size="7.6" letter-spacing="0.2" class="tl">0.001970</text>
<text x="327.30" y="313.18" text-anchor="end" font-size="7.6" letter-spacing="0.2" class="tl">0.001968</text>
<text x="327.30" y="335.10" text-anchor="end" font-size="7.6" letter-spacing="0.2" class="tl">0.001966</text>
<text x="435.40" y="375.60" text-anchor="middle" font-size="13.5" letter-spacing="0" font-style="italic" class="lab">α</text>
<g class="lab" transform="translate(289.7,275.0) rotate(-90)"><text x="0" y="0" font-size="12.4" font-style="italic">β</text></g>
</svg>
</body></html>
